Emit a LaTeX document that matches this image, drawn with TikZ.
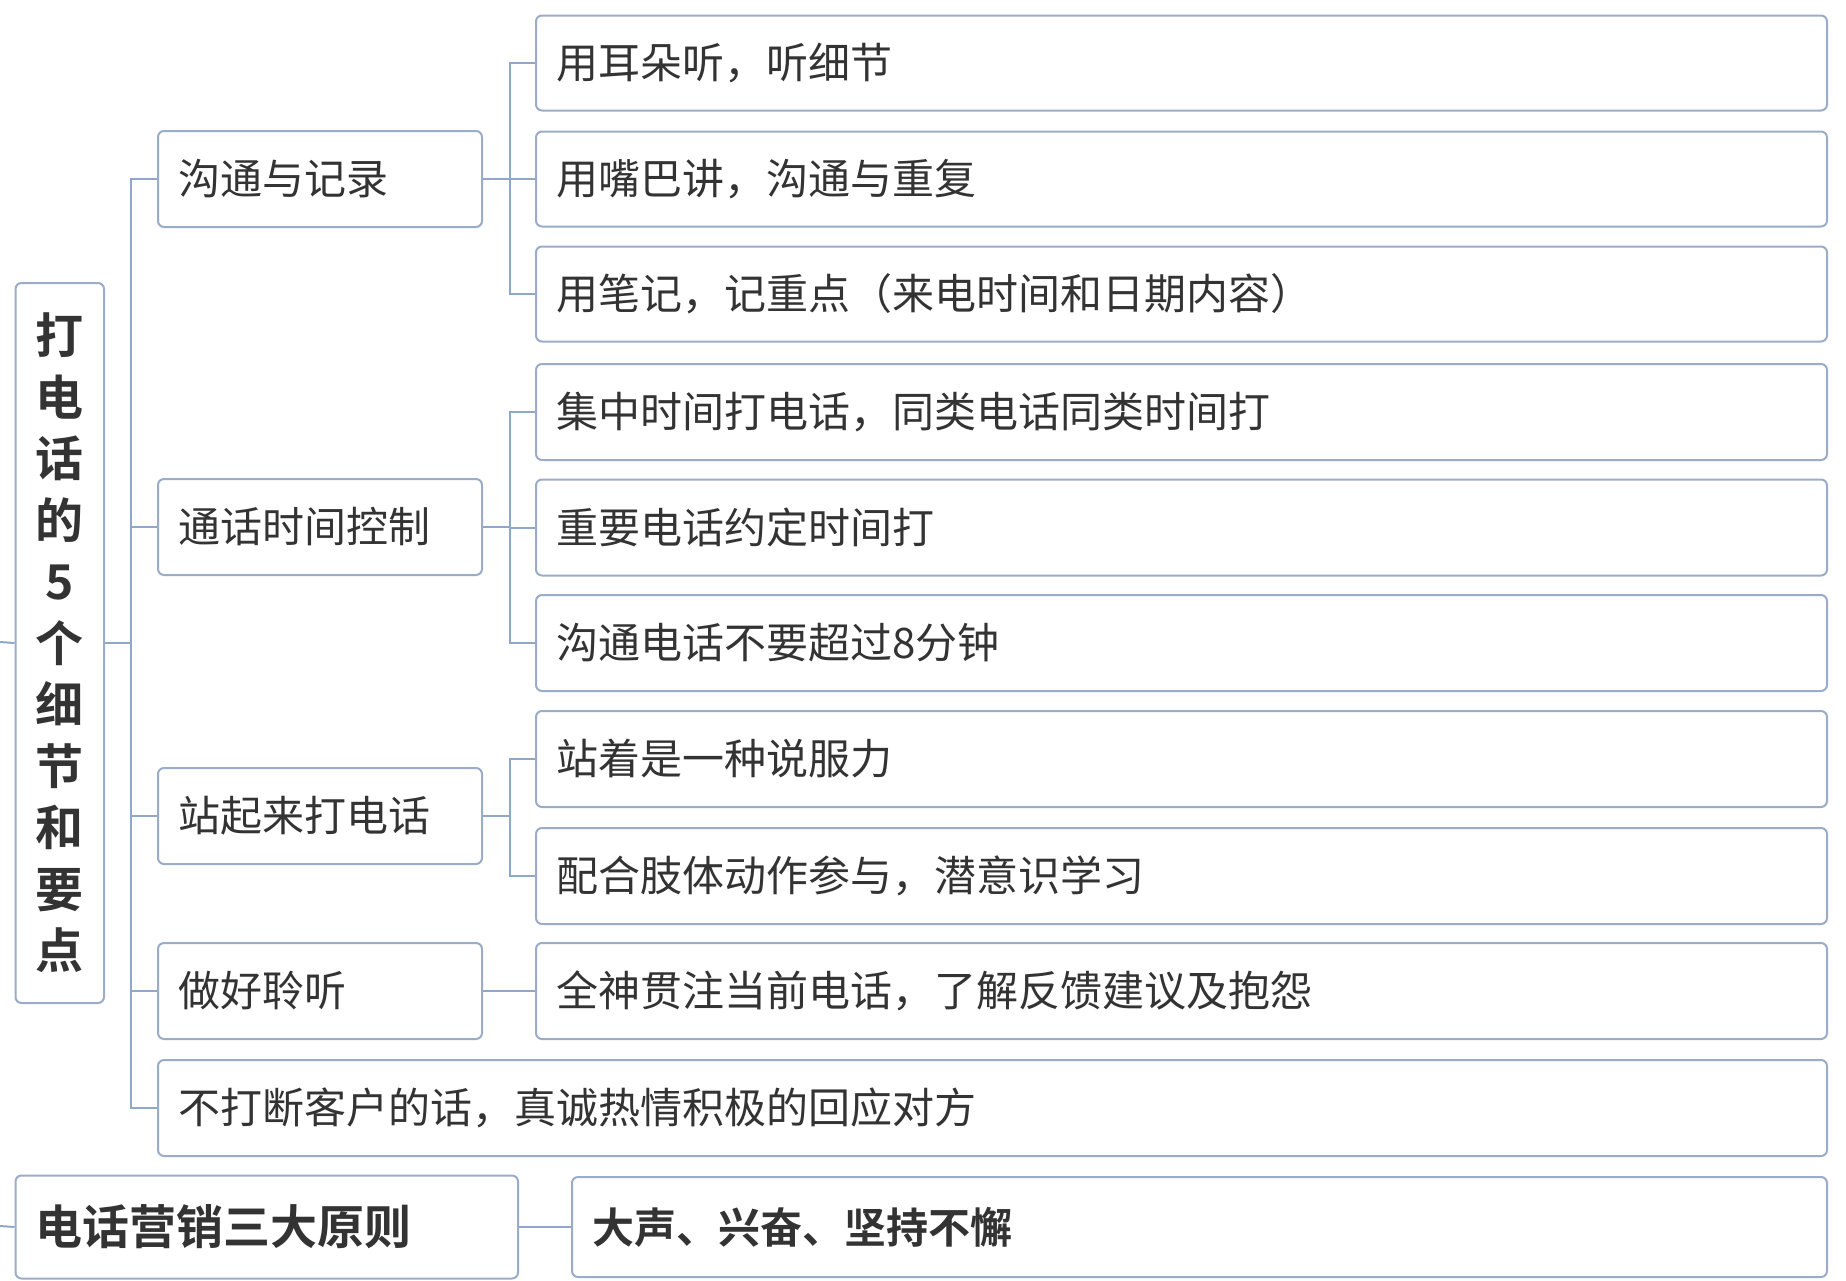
\documentclass[tikz,border=0pt]{standalone}
\usepackage{fontspec}
\setmainfont{Noto Sans CJK SC}[BoldFont={Noto Sans CJK SC Bold}]
\definecolor{edge}{HTML}{8FA8C8}
\definecolor{frame}{HTML}{9AACC8}
\definecolor{ink}{HTML}{333333}
\begin{document}
\begin{tikzpicture}[x=1pt,y=-1pt,
  box/.style={draw=frame,line width=2pt,rounded corners=6pt,fill=white,anchor=north west,
    inner ysep=0pt,inner xsep=20pt,align=left,text=ink,
    font=\fontsize{42}{50}\selectfont},
  conn/.style={draw=edge,line width=2pt}]
\useasboundingbox (0,0) rectangle (1846,1280);
% root
\node[box,font=\bfseries\fontsize{48}{61.5}\selectfont,align=center,inner xsep=0pt,
  minimum width=88.5pt,minimum height=720pt,text width=86pt] (root) at (14.5,282)
  {打\\电\\话\\的\\5\\个\\细\\节\\和\\要\\点};
% level 2
\node[box,minimum height=96pt,text width=284pt] (a) at (157,130) {沟通与记录};
\node[box,minimum height=96pt,text width=284pt] (b) at (157,478) {通话时间控制};
\node[box,minimum height=96pt,text width=284pt] (c) at (157,767) {站起来打电话};
\node[box,minimum height=96pt,text width=284pt] (d) at (157,942) {做好聆听};
\node[box,minimum height=96pt,text width=1629pt] (e) at (157,1059) {不打断客户的话，真诚热情积极的回应对方};
% level 3
\node[box,minimum height=95pt,text width=1251pt] (a1) at (535,14.5) {用耳朵听，听细节};
\node[box,minimum height=95pt,text width=1251pt] (a2) at (535,130.5) {用嘴巴讲，沟通与重复};
\node[box,minimum height=95pt,text width=1251pt] (a3) at (535,245.5) {用笔记，记重点（来电时间和日期内容）};
\node[box,minimum height=96pt,text width=1251pt] (b1) at (535,363) {集中时间打电话，同类电话同类时间打};
\node[box,minimum height=96pt,text width=1251pt] (b2) at (535,478.5) {重要电话约定时间打};
\node[box,minimum height=96pt,text width=1251pt] (b3) at (535,594) {沟通电话不要超过8分钟};
\node[box,minimum height=96pt,text width=1251pt] (c1) at (535,710) {站着是一种说服力};
\node[box,minimum height=96pt,text width=1251pt] (c2) at (535,827) {配合肢体动作参与，潜意识学习};
\node[box,minimum height=96pt,text width=1251pt] (d1) at (535,942) {全神贯注当前电话，了解反馈建议及抱怨};
% bottom
\node[box,font=\bfseries\fontsize{47}{56}\selectfont,minimum height=103pt,text width=462.5pt] (p) at (14.5,1174.5) {电话营销三大原则};
\node[box,font=\bfseries\fontsize{42}{50}\selectfont,minimum height=100pt,text width=1215pt] (q) at (571,1176) {大声、兴奋、坚持不懈};
% connectors
\coordinate (in1) at (0,642);
\coordinate (in2) at (0,1226);
\path[conn] (in1) -- (root.west);
\path[conn] (in2) -- (p.west);
\path[conn] (p.east) -- (q.west);
\path[conn] (root.east) -- ++(26,0) coordinate (t0);
\foreach \n in {a,b,c,d,e} \path[conn] (t0) |- (\n.west);
\path[conn] (a.east) -- ++(27,0) coordinate (ta);
\foreach \n in {a1,a2,a3} \path[conn] (ta) |- (\n.west);
\path[conn] (b.east) -- ++(27,0) coordinate (tb);
\foreach \n in {b1,b2,b3} \path[conn] (tb) |- (\n.west);
\path[conn] (c.east) -- ++(27,0) coordinate (tc);
\foreach \n in {c1,c2} \path[conn] (tc) |- (\n.west);
\path[conn] (d.east) -- (d1.west);
\end{tikzpicture}
\end{document}
